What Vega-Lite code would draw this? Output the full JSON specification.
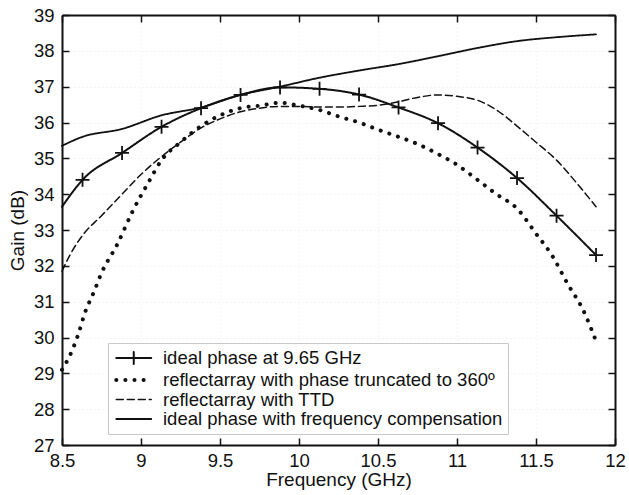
{
  "$schema": "https://vega.github.io/schema/vega-lite/v6.json",
  "width": 553,
  "height": 430,
  "autosize": "none",
  "padding": {"left": 62, "top": 15, "right": 14, "bottom": 50},
  "background": "white",
  "datasets": {
    "curves": [
      {"series": "ideal phase at 9.65 GHz", "f": 8.5, "gain": 33.65},
      {"series": "ideal phase at 9.65 GHz", "f": 8.63, "gain": 34.4},
      {"series": "ideal phase at 9.65 GHz", "f": 8.88, "gain": 35.15},
      {"series": "ideal phase at 9.65 GHz", "f": 9.13, "gain": 35.88},
      {"series": "ideal phase at 9.65 GHz", "f": 9.38, "gain": 36.4},
      {"series": "ideal phase at 9.65 GHz", "f": 9.63, "gain": 36.77},
      {"series": "ideal phase at 9.65 GHz", "f": 9.88, "gain": 36.98},
      {"series": "ideal phase at 9.65 GHz", "f": 10.13, "gain": 36.94},
      {"series": "ideal phase at 9.65 GHz", "f": 10.38, "gain": 36.78},
      {"series": "ideal phase at 9.65 GHz", "f": 10.63, "gain": 36.42},
      {"series": "ideal phase at 9.65 GHz", "f": 10.88, "gain": 35.98},
      {"series": "ideal phase at 9.65 GHz", "f": 11.13, "gain": 35.3},
      {"series": "ideal phase at 9.65 GHz", "f": 11.38, "gain": 34.45},
      {"series": "ideal phase at 9.65 GHz", "f": 11.63, "gain": 33.4},
      {"series": "ideal phase at 9.65 GHz", "f": 11.88, "gain": 32.3},

      {"series": "reflectarray with phase truncated to 360º", "f": 8.5, "gain": 29.1},
      {"series": "reflectarray with phase truncated to 360º", "f": 8.55, "gain": 29.5},
      {"series": "reflectarray with phase truncated to 360º", "f": 8.6, "gain": 30.05},
      {"series": "reflectarray with phase truncated to 360º", "f": 8.65, "gain": 30.75},
      {"series": "reflectarray with phase truncated to 360º", "f": 8.7, "gain": 31.25},
      {"series": "reflectarray with phase truncated to 360º", "f": 8.75, "gain": 31.8},
      {"series": "reflectarray with phase truncated to 360º", "f": 8.85, "gain": 32.6},
      {"series": "reflectarray with phase truncated to 360º", "f": 8.95, "gain": 33.55},
      {"series": "reflectarray with phase truncated to 360º", "f": 9.05, "gain": 34.35},
      {"series": "reflectarray with phase truncated to 360º", "f": 9.13, "gain": 34.95},
      {"series": "reflectarray with phase truncated to 360º", "f": 9.25, "gain": 35.45},
      {"series": "reflectarray with phase truncated to 360º", "f": 9.38, "gain": 35.9},
      {"series": "reflectarray with phase truncated to 360º", "f": 9.5, "gain": 36.2},
      {"series": "reflectarray with phase truncated to 360º", "f": 9.63, "gain": 36.4},
      {"series": "reflectarray with phase truncated to 360º", "f": 9.75, "gain": 36.47},
      {"series": "reflectarray with phase truncated to 360º", "f": 9.88, "gain": 36.55},
      {"series": "reflectarray with phase truncated to 360º", "f": 10.0, "gain": 36.47},
      {"series": "reflectarray with phase truncated to 360º", "f": 10.13, "gain": 36.35},
      {"series": "reflectarray with phase truncated to 360º", "f": 10.25, "gain": 36.17},
      {"series": "reflectarray with phase truncated to 360º", "f": 10.38, "gain": 36.0},
      {"series": "reflectarray with phase truncated to 360º", "f": 10.5, "gain": 35.8},
      {"series": "reflectarray with phase truncated to 360º", "f": 10.63, "gain": 35.6},
      {"series": "reflectarray with phase truncated to 360º", "f": 10.75, "gain": 35.4},
      {"series": "reflectarray with phase truncated to 360º", "f": 10.88, "gain": 35.12},
      {"series": "reflectarray with phase truncated to 360º", "f": 11.0, "gain": 34.82},
      {"series": "reflectarray with phase truncated to 360º", "f": 11.13, "gain": 34.4},
      {"series": "reflectarray with phase truncated to 360º", "f": 11.25, "gain": 34.0},
      {"series": "reflectarray with phase truncated to 360º", "f": 11.38, "gain": 33.6},
      {"series": "reflectarray with phase truncated to 360º", "f": 11.5, "gain": 32.9},
      {"series": "reflectarray with phase truncated to 360º", "f": 11.6, "gain": 32.3},
      {"series": "reflectarray with phase truncated to 360º", "f": 11.7, "gain": 31.5},
      {"series": "reflectarray with phase truncated to 360º", "f": 11.8, "gain": 30.75},
      {"series": "reflectarray with phase truncated to 360º", "f": 11.88, "gain": 29.9},

      {"series": "reflectarray with TTD", "f": 8.5, "gain": 31.85},
      {"series": "reflectarray with TTD", "f": 8.55, "gain": 32.3},
      {"series": "reflectarray with TTD", "f": 8.63, "gain": 32.85},
      {"series": "reflectarray with TTD", "f": 8.75, "gain": 33.4},
      {"series": "reflectarray with TTD", "f": 8.88, "gain": 34.0},
      {"series": "reflectarray with TTD", "f": 9.0, "gain": 34.55},
      {"series": "reflectarray with TTD", "f": 9.13, "gain": 35.05},
      {"series": "reflectarray with TTD", "f": 9.25, "gain": 35.45},
      {"series": "reflectarray with TTD", "f": 9.38, "gain": 35.85},
      {"series": "reflectarray with TTD", "f": 9.5, "gain": 36.1},
      {"series": "reflectarray with TTD", "f": 9.63, "gain": 36.3},
      {"series": "reflectarray with TTD", "f": 9.75, "gain": 36.4},
      {"series": "reflectarray with TTD", "f": 9.88, "gain": 36.45},
      {"series": "reflectarray with TTD", "f": 10.0, "gain": 36.45},
      {"series": "reflectarray with TTD", "f": 10.13, "gain": 36.43},
      {"series": "reflectarray with TTD", "f": 10.25, "gain": 36.43},
      {"series": "reflectarray with TTD", "f": 10.38, "gain": 36.45},
      {"series": "reflectarray with TTD", "f": 10.5, "gain": 36.48},
      {"series": "reflectarray with TTD", "f": 10.63, "gain": 36.58},
      {"series": "reflectarray with TTD", "f": 10.75, "gain": 36.7},
      {"series": "reflectarray with TTD", "f": 10.88, "gain": 36.77},
      {"series": "reflectarray with TTD", "f": 11.0, "gain": 36.73},
      {"series": "reflectarray with TTD", "f": 11.13, "gain": 36.62},
      {"series": "reflectarray with TTD", "f": 11.25, "gain": 36.35},
      {"series": "reflectarray with TTD", "f": 11.38, "gain": 35.9},
      {"series": "reflectarray with TTD", "f": 11.5, "gain": 35.45},
      {"series": "reflectarray with TTD", "f": 11.63, "gain": 34.95},
      {"series": "reflectarray with TTD", "f": 11.75, "gain": 34.35},
      {"series": "reflectarray with TTD", "f": 11.88, "gain": 33.65},

      {"series": "ideal phase with frequency compensation", "f": 8.5, "gain": 35.35},
      {"series": "ideal phase with frequency compensation", "f": 8.63, "gain": 35.6},
      {"series": "ideal phase with frequency compensation", "f": 8.88, "gain": 35.82},
      {"series": "ideal phase with frequency compensation", "f": 9.13, "gain": 36.2},
      {"series": "ideal phase with frequency compensation", "f": 9.38, "gain": 36.42},
      {"series": "ideal phase with frequency compensation", "f": 9.63, "gain": 36.77},
      {"series": "ideal phase with frequency compensation", "f": 9.88, "gain": 37.0},
      {"series": "ideal phase with frequency compensation", "f": 10.13, "gain": 37.25},
      {"series": "ideal phase with frequency compensation", "f": 10.38, "gain": 37.45},
      {"series": "ideal phase with frequency compensation", "f": 10.63, "gain": 37.63},
      {"series": "ideal phase with frequency compensation", "f": 10.88, "gain": 37.85},
      {"series": "ideal phase with frequency compensation", "f": 11.13, "gain": 38.08},
      {"series": "ideal phase with frequency compensation", "f": 11.38, "gain": 38.27},
      {"series": "ideal phase with frequency compensation", "f": 11.63, "gain": 38.38},
      {"series": "ideal phase with frequency compensation", "f": 11.88, "gain": 38.46}
    ]
  },
  "data": {"name": "curves"},
  "config": {
    "font": "Liberation Sans",
    "view": {"stroke": null},
    "axis": {
      "domainColor": "#111111",
      "domainWidth": 2,
      "tickColor": "#111111",
      "tickWidth": 1.5,
      "tickSize": -7,
      "labelFont": "Liberation Sans",
      "labelFontSize": 18.5,
      "labelColor": "#111111",
      "titleFont": "Liberation Sans",
      "titleFontSize": 19,
      "titleFontWeight": "normal",
      "titleColor": "#111111",
      "grid": true,
      "gridColor": "#ebebeb",
      "gridDash": [1, 3],
      "gridWidth": 1
    }
  },
  "layer": [
    {
      "mark": {"type": "line", "interpolate": "monotone", "color": "#111111", "strokeCap": "round"},
      "encoding": {
        "x": {
          "field": "f", "type": "quantitative",
          "scale": {"domain": [8.5, 12], "nice": false, "zero": false},
          "axis": {"orient": "bottom", "title": "Frequency (GHz)", "values": [8.5, 9, 9.5, 10, 10.5, 11, 11.5, 12], "format": "~g", "labelPadding": 13, "titlePadding": 1, "labelFlush": false}
        },
        "y": {
          "field": "gain", "type": "quantitative",
          "scale": {"domain": [27, 39], "nice": false, "zero": false},
          "axis": {"orient": "left", "title": "Gain (dB)", "values": [27, 28, 29, 30, 31, 32, 33, 34, 35, 36, 37, 38, 39], "labelPadding": 15, "titlePadding": 6, "labelFlush": false}
        },
        "detail": {"field": "series"},
        "strokeDash": {
          "field": "series", "type": "nominal",
          "scale": {
            "domain": ["ideal phase at 9.65 GHz", "reflectarray with phase truncated to 360º", "reflectarray with TTD", "ideal phase with frequency compensation"],
            "range": [[1, 0], [0.1, 9], [7, 4], [1, 0]]
          },
          "legend": {
            "title": null,
            "orient": "none",
            "legendX": 46,
            "legendY": 328,
            "fillColor": "white",
            "strokeColor": "#c8c8c8",
            "padding": 5,
            "symbolOffset": 1,
            "labelFont": "Liberation Sans",
            "labelFontSize": 18.5,
            "labelColor": "#111111",
            "labelLimit": 500,
            "labelOffset": 27,
            "symbolSize": 306,
            "symbolStrokeColor": "#111111",
            "rowPadding": 0,
            "encode": {
              "symbols": {
                "update": {
                  "shape": {"signal": "datum.value === 'ideal phase at 9.65 GHz' ? 'M-1,0L3,0M1,-0.7L1,0.7' : 'M-1,0L3,0'"},
                  "strokeCap": {"value": "round"}
                }
              }
            }
          }
        },
        "strokeWidth": {
          "field": "series", "type": "nominal",
          "scale": {
            "type": "ordinal",
            "domain": ["ideal phase at 9.65 GHz", "reflectarray with phase truncated to 360º", "reflectarray with TTD", "ideal phase with frequency compensation"],
            "range": [2, 4, 1.5, 1.8]
          },
          "legend": null
        }
      }
    },
    {
      "transform": [{"filter": "datum.series === 'ideal phase at 9.65 GHz' && datum.f > 8.55"}],
      "mark": {"type": "point", "shape": "M-1,0L1,0M0,-1L0,1", "filled": false, "size": 196, "strokeWidth": 1.8, "color": "#111111", "opacity": 1},
      "encoding": {
        "x": {"field": "f", "type": "quantitative", "axis": {"orient": "top", "title": null, "labels": false, "values": [8.5, 9, 9.5, 10, 10.5, 11, 11.5, 12], "grid": false}},
        "y": {"field": "gain", "type": "quantitative", "axis": {"orient": "right", "title": null, "labels": false, "values": [27, 28, 29, 30, 31, 32, 33, 34, 35, 36, 37, 38, 39], "grid": false}}
      }
    }
  ]
}
